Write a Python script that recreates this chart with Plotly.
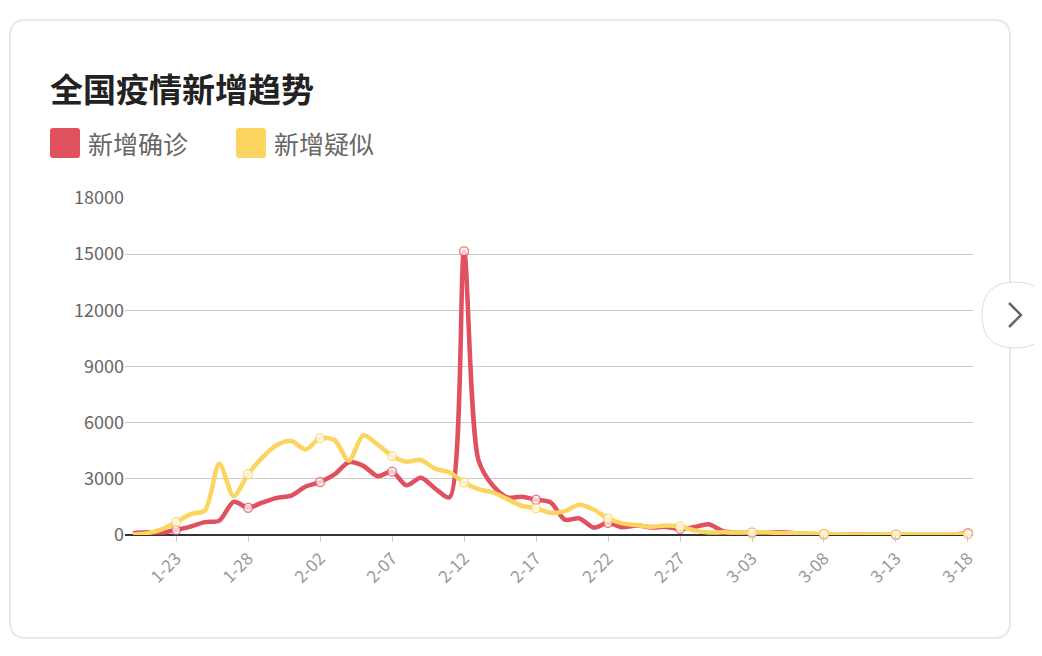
import plotly.graph_objects as go

dates = ["1-20","1-21","1-22","1-23","1-24","1-25","1-26","1-27","1-28","1-29","1-30","1-31",
         "2-01","2-02","2-03","2-04","2-05","2-06","2-07","2-08","2-09","2-10","2-11","2-12","2-13","2-14",
         "2-15","2-16","2-17","2-18","2-19","2-20","2-21","2-22","2-23","2-24","2-25","2-26","2-27","2-28","2-29",
         "3-01","3-02","3-03","3-04","3-05","3-06","3-07","3-08","3-09","3-10","3-11","3-12","3-13","3-14",
         "3-15","3-16","3-17","3-18"]
confirmed = [100,150,130,270,444,688,769,1771,1459,1737,1982,2102,
             2590,2829,3235,3887,3694,3143,3385,2652,3062,2478,2015,15152,4000,2641,
             2009,2048,1886,1749,820,889,397,648,409,508,406,433,327,427,573,
             202,125,119,139,143,99,44,40,19,24,15,8,11,20,
             16,21,39,100]
suspected = [30,100,300,680,1118,1309,3806,2077,3248,4148,4812,5019,
             4562,5173,5072,3971,5328,4833,4214,3916,4008,3536,3342,2807,2450,2277,
             1918,1563,1432,1185,1277,1614,1361,882,620,530,439,508,452,248,132,
             141,129,143,143,102,99,76,60,36,31,33,33,45,39,
             41,45,45,45]
tick_labels = ["1-23","1-28","2-02","2-07","2-12","2-17","2-22","2-27","3-03","3-08","3-13","3-18"]
y_ticks = [0,3000,6000,9000,12000,15000,18000]

RED = "#e0505e"
YEL = "#fbd55f"
x = list(range(len(dates)))
tickpos = [dates.index(t) for t in tick_labels]
msize = [9 if d in tick_labels else 0 for d in dates]

fig = go.Figure()
for vals, col in [(confirmed, RED), (suspected, YEL)]:
    fig.add_trace(go.Scatter(x=x, y=vals, mode="lines+markers",
        line=dict(color=col, width=4.5, shape="spline", smoothing=0.8),
        marker=dict(size=msize, color="white", line=dict(color=col, width=1.5)),
        cliponaxis=False, hoverinfo="skip"))

OX, OY = 8, 8  # page body margin
FW, FH = 1042 - OX, 656 - OY
L, T, R, B = 125 - OX, 198 - OY, 973 - OX, 535 - OY
W, H = R - L, B - T
def px(xp): return (xp - OX - L) / W
def py(yp): return (B - (yp - OY)) / H
X = lambda v: v - OX - L
Y = lambda v: B - (v - OY)

def rrect(x0, y0, x1, y1, r):
    return (f"M{X(x0+r)},{Y(y0)} L{X(x1-r)},{Y(y0)} Q{X(x1)},{Y(y0)} {X(x1)},{Y(y0+r)} "
            f"L{X(x1)},{Y(y1-r)} Q{X(x1)},{Y(y1)} {X(x1-r)},{Y(y1)} L{X(x0+r)},{Y(y1)} "
            f"Q{X(x0)},{Y(y1)} {X(x0)},{Y(y1-r)} L{X(x0)},{Y(y0+r)} Q{X(x0)},{Y(y0)} {X(x0+r)},{Y(y0)} Z")

shapes = []
def pshape(path, **kw):
    shapes.append(dict(type="path", xref="paper", yref="paper", xsizemode="pixel", ysizemode="pixel",
                       xanchor=0, yanchor=0, path=path, **kw))
pshape(rrect(10, 20, 1010, 638, 16), line=dict(color="#e8e8e8", width=2), fillcolor="rgba(0,0,0,0)", layer="below")
pshape(rrect(50, 128, 80, 158, 3), line=dict(width=0), fillcolor=RED)
pshape(rrect(236, 128, 266, 158, 3), line=dict(width=0), fillcolor=YEL)
pshape(rrect(982, 282, 1048, 348, 33), line=dict(color="#dddddd", width=1), fillcolor="white")
pshape(f"M{X(1009)},{Y(303)} L{X(1021)},{Y(315)} L{X(1009)},{Y(327)}", line=dict(color="#666", width=2.5))

ann = [
    dict(x=px(48), y=py(88), text="<b>全国疫情新增趋势</b>", font=dict(size=33, color="#222")),
    dict(x=px(86), y=py(143), text="新增确诊", font=dict(size=25, color="#666")),
    dict(x=px(272), y=py(143), text="新增疑似", font=dict(size=25, color="#666")),
]
for a in ann:
    a.update(xref="paper", yref="paper", xanchor="left", yanchor="middle", showarrow=False)

fig.update_layout(
    width=FW, height=FH, plot_bgcolor="white", paper_bgcolor="white",
    margin=dict(l=L, r=FW - R, t=T, b=FH - B), showlegend=False,
    font=dict(family="Noto Sans CJK SC, Noto Sans, sans-serif"),
    shapes=shapes, annotations=ann,
    xaxis=dict(range=[-0.55, 58.35], tickvals=tickpos, ticktext=tick_labels, tickangle=-45,
               showgrid=False, zeroline=False, showline=False,
               tickfont=dict(size=17, color="#999"), ticks="outside", ticklen=6, tickcolor="#ccc"),
    yaxis=dict(range=[0, 18000], tickvals=y_ticks, ticktext=[str(v) for v in y_ticks],
               showgrid=True, gridcolor="#cccccc", gridwidth=1,
               zeroline=True, zerolinecolor="#333", zerolinewidth=1.5,
               tickfont=dict(size=18, color="#666"), ticklen=0, ticks=""),
)
fig.write_html("out.html")
